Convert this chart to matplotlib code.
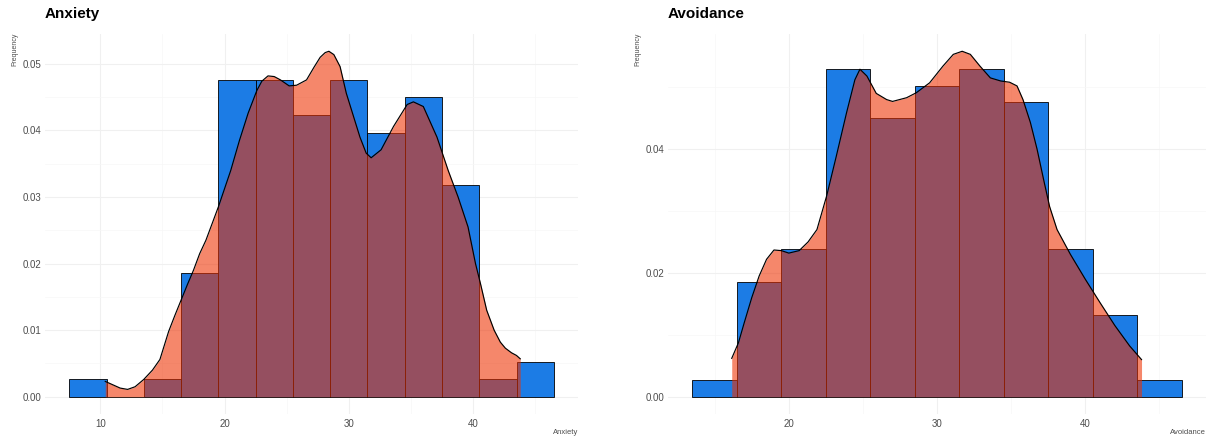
import matplotlib.pyplot as plt
from matplotlib.ticker import MultipleLocator
import numpy as np

plt.rcParams['font.family'] = ['Liberation Sans', 'DejaVu Sans']

n_obs = 126

# histogram bins (width 3) and counts
anx_bins = [7.5, 10.5, 13.5, 16.5, 19.5, 22.5, 25.5, 28.5, 31.5, 34.5, 37.5, 40.5, 43.5, 46.5]
anx_counts = [1, 0, 1, 7, 18, 18, 16, 18, 15, 17, 12, 1, 2]
avo_bins = [13.5, 16.5, 19.5, 22.5, 25.5, 28.5, 31.5, 34.5, 37.5, 40.5, 43.5, 46.5]
avo_counts = [1, 7, 9, 20, 17, 19, 20, 18, 9, 5, 1]

# density curves
anx_kde_x = [10.4, 11.0, 11.6, 12.2, 12.8, 13.5, 14.2, 14.8, 15.5, 16.0, 16.5, 17.0, 17.5,
             18.0, 18.5, 19.0, 19.5, 20.5, 21.2, 21.9, 22.6, 23.0, 23.5, 24.0, 24.5, 25.2,
             25.8, 26.6, 27.2, 27.7, 28.1, 28.4, 28.8, 29.3, 29.8, 30.4, 30.9, 31.4, 31.8,
             32.6, 33.6, 34.7, 35.2, 36.0, 37.1, 38.0, 38.8, 39.6, 40.2, 40.6, 41.1, 41.7,
             42.2, 42.6, 43.1, 43.5, 43.8]
anx_kde_y = [0.0023, 0.0018, 0.0013, 0.0011, 0.0015, 0.0026, 0.0040, 0.0056, 0.0098, 0.0122,
             0.0145, 0.0168, 0.0190, 0.0215, 0.0235, 0.0260, 0.0285, 0.0340, 0.0385, 0.0426,
             0.0460, 0.0474, 0.0482, 0.0481, 0.0476, 0.0467, 0.0468, 0.0476, 0.0495, 0.0510,
             0.0517, 0.0519, 0.0514, 0.0496, 0.0456, 0.0420, 0.0390, 0.0366, 0.0359, 0.0371,
             0.0406, 0.0439, 0.0443, 0.0436, 0.0390, 0.0340, 0.0300, 0.0255, 0.0200, 0.0170,
             0.0130, 0.0100, 0.0082, 0.0073, 0.0066, 0.0062, 0.0057]
avo_kde_x = [16.15, 16.6, 17.0, 17.5, 18.0, 18.5, 19.0, 19.5, 20.0, 20.7, 21.3, 21.9, 22.55,
             23.2, 23.9, 24.46, 24.8, 25.27, 25.9, 26.6, 27.0, 27.95, 28.6, 29.5, 30.4, 31.1,
             31.7, 32.25, 32.9, 33.6, 34.3, 34.9, 35.4, 35.8, 36.3, 36.75, 37.2, 37.6, 38.1,
             39.0, 40.0, 41.0, 42.0, 43.0, 43.8]
avo_kde_y = [0.0062, 0.0087, 0.0120, 0.0160, 0.0195, 0.0222, 0.0237, 0.0236, 0.0232, 0.0236,
             0.0250, 0.0270, 0.0324, 0.0388, 0.0459, 0.0512, 0.0529, 0.0518, 0.0490, 0.0480,
             0.0477, 0.0483, 0.0491, 0.0507, 0.0534, 0.0553, 0.0558, 0.0553, 0.0534, 0.0515,
             0.0510, 0.0508, 0.0502, 0.0480, 0.0443, 0.0400, 0.0350, 0.0307, 0.0270, 0.0230,
             0.0190, 0.0152, 0.0115, 0.0082, 0.0060]

bar_color = '#1C7CE5'
kde_color = '#EE3000'
text_color = '#4D4D4D'

fig = plt.figure(figsize=(12.1, 4.43), dpi=100)
W, H = 1210, 443

panels = [
    ('Anxiety', anx_bins, anx_counts, anx_kde_x, anx_kde_y, [45, 533], 0.01),
    ('Avoidance', avo_bins, avo_counts, avo_kde_x, avo_kde_y, [668, 538], 0.02),
]

for name, bins, counts, kx, ky, (left, width), ystep in panels:
    ax = fig.add_axes([left / W, 29 / H, width / W, 380 / H])
    bins = np.array(bins)
    dens = np.array(counts) / (n_obs * np.diff(bins))

    ax.bar(bins[:-1], dens, width=np.diff(bins), align='edge', color=bar_color,
           edgecolor='black', linewidth=0.6, zorder=2)
    ax.fill_between(kx, ky, color=kde_color, alpha=0.58, linewidth=0, zorder=3)
    ax.plot(kx, ky, color='black', linewidth=0.85, zorder=4)

    span = bins[-1] - bins[0]
    ymax = max(dens.max(), max(ky))
    ax.set_xlim(bins[0] - 0.05 * span, bins[-1] + 0.05 * span)
    ax.set_ylim(-0.05 * ymax, 1.05 * ymax)

    ax.xaxis.set_major_locator(MultipleLocator(10))
    ax.xaxis.set_minor_locator(MultipleLocator(5))
    ax.yaxis.set_major_locator(MultipleLocator(ystep))
    ax.yaxis.set_minor_locator(MultipleLocator(ystep / 2))
    ax.yaxis.set_major_formatter(lambda v, p: f'{v:.2f}')
    ax.grid(which='major', color='#F0F0F0', linewidth=0.8)
    ax.grid(which='minor', color='#F7F7F7', linewidth=0.5)
    ax.set_axisbelow(True)
    for s in ax.spines.values():
        s.set_visible(False)
    ax.tick_params(which='both', length=0, labelsize=7, labelcolor=text_color)
    ax.tick_params(axis='y', pad=2.5)
    ax.tick_params(axis='x', pad=3.5)

    fig.text(left / W, 1 - 14 / H, name, fontsize=11, fontweight='bold',
             ha='left', va='center')
    fig.text((left - 30) / W, 1 - 33 / H, 'Frequency', fontsize=5, rotation=90,
             ha='center', va='top', color=text_color)
    fig.text((left + width) / W, 1 - 433 / H, name, fontsize=5.5,
             ha='right', va='center', color=text_color)

plt.savefig('out.png', dpi=100)
